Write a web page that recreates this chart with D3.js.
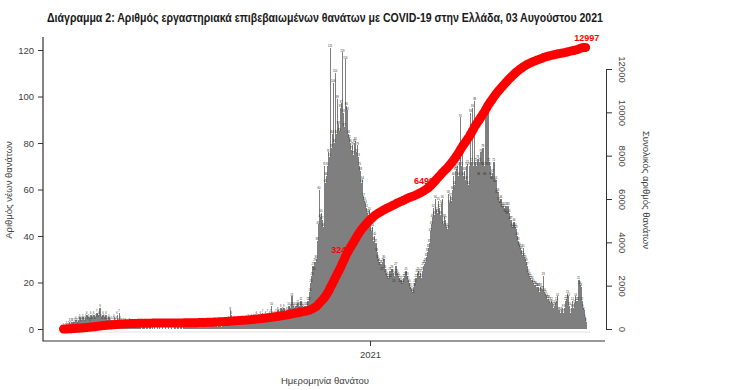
<!DOCTYPE html>
<html>
<head>
<meta charset="utf-8">
<script src="https://cdn.jsdelivr.net/npm/d3@7"></script>
<style>
  body { margin: 0; background: #fff; }
  svg { display: block; font-family: "Liberation Sans Narrow", "Liberation Sans", Arial, sans-serif; }
</style>
</head>
<body>
<div id="chart"></div>
<script>
// ---- data ----
var titleText = "Διάγραμμα 2: Αριθμός εργαστηριακά επιβεβαιωμένων θανάτων με COVID-19 στην Ελλάδα, 03 Αυγούστου 2021";
var firstDay = "2020-03-03";   // first bar
// daily deaths, one value per day from firstDay
var dailyDeaths = [
  1,0,1,2,1,2,3,2,3,3,  2,3,4,3,2,4,5,3,4,5,  4,3,5,6,4,5,3,6,4,5,  6,4,5,7,5,6,9,5,4,6,
  5,4,6,3,4,5,3,4,2,4,  5,3,4,6,3,7,4,3,2,3,  2,3,2,1,2,3,1,2,1,2,  2,1,2,1,1,2,1,0,1,1,
  1,0,1,1,0,1,1,0,1,0,  1,0,0,1,0,1,0,0,1,0,  0,1,0,0,1,0,0,1,0,0,  1,0,0,1,0,0,1,0,0,1,
  0,1,0,1,0,2,1,0,1,1,  1,0,2,1,1,2,1,1,2,1,  2,1,1,3,2,1,2,1,2,3,  2,3,1,2,3,2,1,3,2,2,
  3,2,3,4,2,8,6,3,2,3,  3,2,4,3,2,4,3,2,4,3,  3,4,3,5,4,3,5,4,5,4,  5,6,4,5,4,6,5,7,5,4,
  6,5,7,5,6,7,10,6,5,6, 7,6,8,7,6,9,7,8,9,7,  6,8,7,10,8,9,14,10,9,8, 10,9,11,8,10,12,10,9,8,10,
  8,10,12,12,16,20,23,27,25,29,
  30,38,45,60,48,50,47,44,70,63,
  66,70,76,74,121,78,84,106,80,110,
  84,99,88,85,95,97,119,93,87,116,
  96,94,84,82,80,77,79,75,80,81,
  76,79,74,70,68,63,64,57,55,54,
  52,50,49,51,46,42,44,38,40,37,
  33,30,29,27,28,25,29,30,26,24,
  23,22,21,25,22,26,24,20,23,27,
  24,23,22,20,21,19,20,22,23,25,
  23,21,20,18,17,16,15,18,20,22,
  24,25,23,24,22,25,27,28,29,31,
  33,35,37,42,45,48,52,49,56,51,
  50,55,52,49,54,56,45,48,47,44,
  43,58,54,57,55,60,66,62,68,69,
  70,66,72,91,70,76,66,68,64,70,
  71,62,70,93,72,95,70,98,72,70,
  73,66,72,76,70,78,70,66,91,70,
  94,72,70,66,64,67,72,63,64,58,
  59,55,54,56,52,53,52,50,53,49,
  53,50,47,47,44,43,46,44,43,40,
  38,36,35,34,32,35,31,30,29,27,
  24,23,22,21,21,20,19,19,18,18,
  18,16,18,17,17,23,16,15,14,13,
  13,12,11,12,11,9,10,11,12,14,
  8,8,7,8,9,7,9,12,13,15,
  14,10,7,9,12,9,11,14,12,12,
  21,19,18,12,9,8,5,3
];
var leftTicks = [0, 20, 40, 60, 80, 100, 120];
var rightTicks = [0, 2000, 4000, 6000, 8000, 10000, 12000];
var xTickDates = ["2021-01-01"];
var xTickLabels = ["2021"];
var leftTitle = "Αριθμός νέων θανάτων";
var rightTitle = "Συνολικός αριθμός θανάτων";
var xTitle = "Ημερομηνία θανάτου";

// ---- layout ----
var W = 734, H = 390;
var svg = d3.select("#chart").append("svg").attr("width", W).attr("height", H);

var parse = d3.utcParse("%Y-%m-%d");
var d0 = parse(firstDay);
var days = dailyDeaths.map(function(v, i) { return { date: d3.utcDay.offset(d0, i), value: v }; });
var cum = d3.cumsum(dailyDeaths);
days.forEach(function(d, i) { d.total = cum[i]; });
var total = cum[cum.length - 1];

var x = d3.scaleUtc()
  .domain([d0, d3.utcDay.offset(d0, dailyDeaths.length)])
  .range([63, 63 + dailyDeaths.length * 1.01]);
var yL = d3.scaleLinear().domain([0, 120]).range([329, 50]);
var yR = d3.scaleLinear().domain([0, 12000]).range([329, 69]);
var step = x(d3.utcDay.offset(d0, 1)) - x(d0);

// title
svg.append("text")
  .attr("x", 47).attr("y", 22)
  .attr("font-size", 12.5).attr("font-weight", "bold").attr("fill", "#1a1a1a")
  .attr("textLength", 556).attr("lengthAdjust", "spacingAndGlyphs")
  .text(titleText);

// faint panel base
svg.append("line").attr("x1", 58).attr("x2", 590).attr("y1", 332).attr("y2", 332)
  .attr("stroke", "#e2e2e2").attr("stroke-width", 1);

// bars
svg.append("g").attr("shape-rendering", "crispEdges")
  .selectAll("rect").data(days).join("rect")
  .attr("x", function(d) { return x(d.date); })
  .attr("y", function(d) { return yL(d.value); })
  .attr("width", step + 0.4)
  .attr("height", function(d) { return yL(0) - yL(d.value); })
  .attr("fill", "#7f7f7f");

// tiny value labels on the bars
svg.append("g").selectAll("text").data(days.filter(function(d) { return d.value > 0; })).join("text")
  .attr("x", function(d) { return x(d.date) + step / 2; })
  .attr("y", function(d) { return yL(d.value) - 0.8; })
  .attr("text-anchor", "middle")
  .attr("font-size", 2.6).attr("fill", "#222")
  .text(function(d) { return d.value; });

// milestone labels (quarter and half of the total) - drawn under the line
var marks = [Math.round(total / 4), Math.round(total / 2)];
marks.forEach(function(m) {
  var d = days.find(function(e) { return e.total >= m; });
  svg.append("text")
    .attr("x", x(d.date) + step / 2 - 4).attr("y", yR(d.total) - 4)
    .attr("text-anchor", "middle").attr("font-size", 9).attr("font-weight", "bold")
    .attr("fill", "#ff0000").text(m);
});

// cumulative line
var line = d3.line()
  .x(function(d) { return x(d.date) + step / 2; })
  .y(function(d) { return yR(d.total); })
  .curve(d3.curveMonotoneX);
svg.append("path").datum(days)
  .attr("d", line)
  .attr("fill", "none").attr("stroke", "#ff0000")
  .attr("stroke-width", 9).attr("stroke-linecap", "round").attr("stroke-linejoin", "round");

var last = days[days.length - 1];
svg.append("text")
  .attr("x", x(last.date) + step / 2 + 1).attr("y", yR(last.total) - 6)
  .attr("text-anchor", "middle").attr("font-size", 9).attr("font-weight", "bold")
  .attr("fill", "#ff0000").text(total);

// L-shaped frame
svg.append("path").attr("d", "M43,37V341H605")
  .attr("fill", "none").attr("stroke", "#333").attr("stroke-width", 1.2);

// left axis
var gL = svg.append("g").attr("transform", "translate(43,0)")
  .call(d3.axisLeft(yL).tickValues(leftTicks).tickSize(5).tickPadding(4));
gL.select(".domain").remove();
gL.selectAll("line").attr("stroke", "#333");
gL.selectAll("text").attr("font-size", 9.5).attr("fill", "#404040").attr("font-family", "inherit");

// right axis
var gR = svg.append("g").attr("transform", "translate(606,0)")
  .call(d3.axisRight(yR).tickValues(rightTicks).tickFormat(d3.format("d")).tickSize(6).tickSizeOuter(0));
gR.select(".domain").attr("stroke", "#333");
gR.selectAll("line").attr("stroke", "#333");
gR.selectAll(".tick text")
  .attr("x", 0).attr("dy", null).attr("y", 0)
  .attr("transform", "translate(16,0) rotate(90)")
  .attr("text-anchor", "middle").attr("dominant-baseline", "middle")
  .attr("font-size", 9.5).attr("fill", "#404040").attr("font-family", "inherit");

// bottom axis (single year tick)
var xTicks = xTickDates.map(parse);
var gX = svg.append("g").attr("transform", "translate(0,341)")
  .call(d3.axisBottom(x).tickValues(xTicks)
    .tickFormat(function(d, i) { return xTickLabels[i]; }).tickSize(5).tickPadding(5));
gX.select(".domain").remove();
gX.selectAll("line").attr("stroke", "#333");
gX.selectAll("text").attr("font-size", 9.5).attr("fill", "#404040").attr("font-family", "inherit");

// axis titles
svg.append("text")
  .attr("transform", "translate(12,190) rotate(-90)")
  .attr("text-anchor", "middle").attr("font-size", 9.5).attr("fill", "#404040")
  .text(leftTitle);
svg.append("text")
  .attr("transform", "translate(643,190) rotate(90)")
  .attr("text-anchor", "middle").attr("font-size", 9.5).attr("fill", "#404040")
  .text(rightTitle);
svg.append("text")
  .attr("x", 325).attr("y", 384)
  .attr("text-anchor", "middle").attr("font-size", 9.5).attr("fill", "#404040")
  .text(xTitle);
</script>
</body>
</html>
